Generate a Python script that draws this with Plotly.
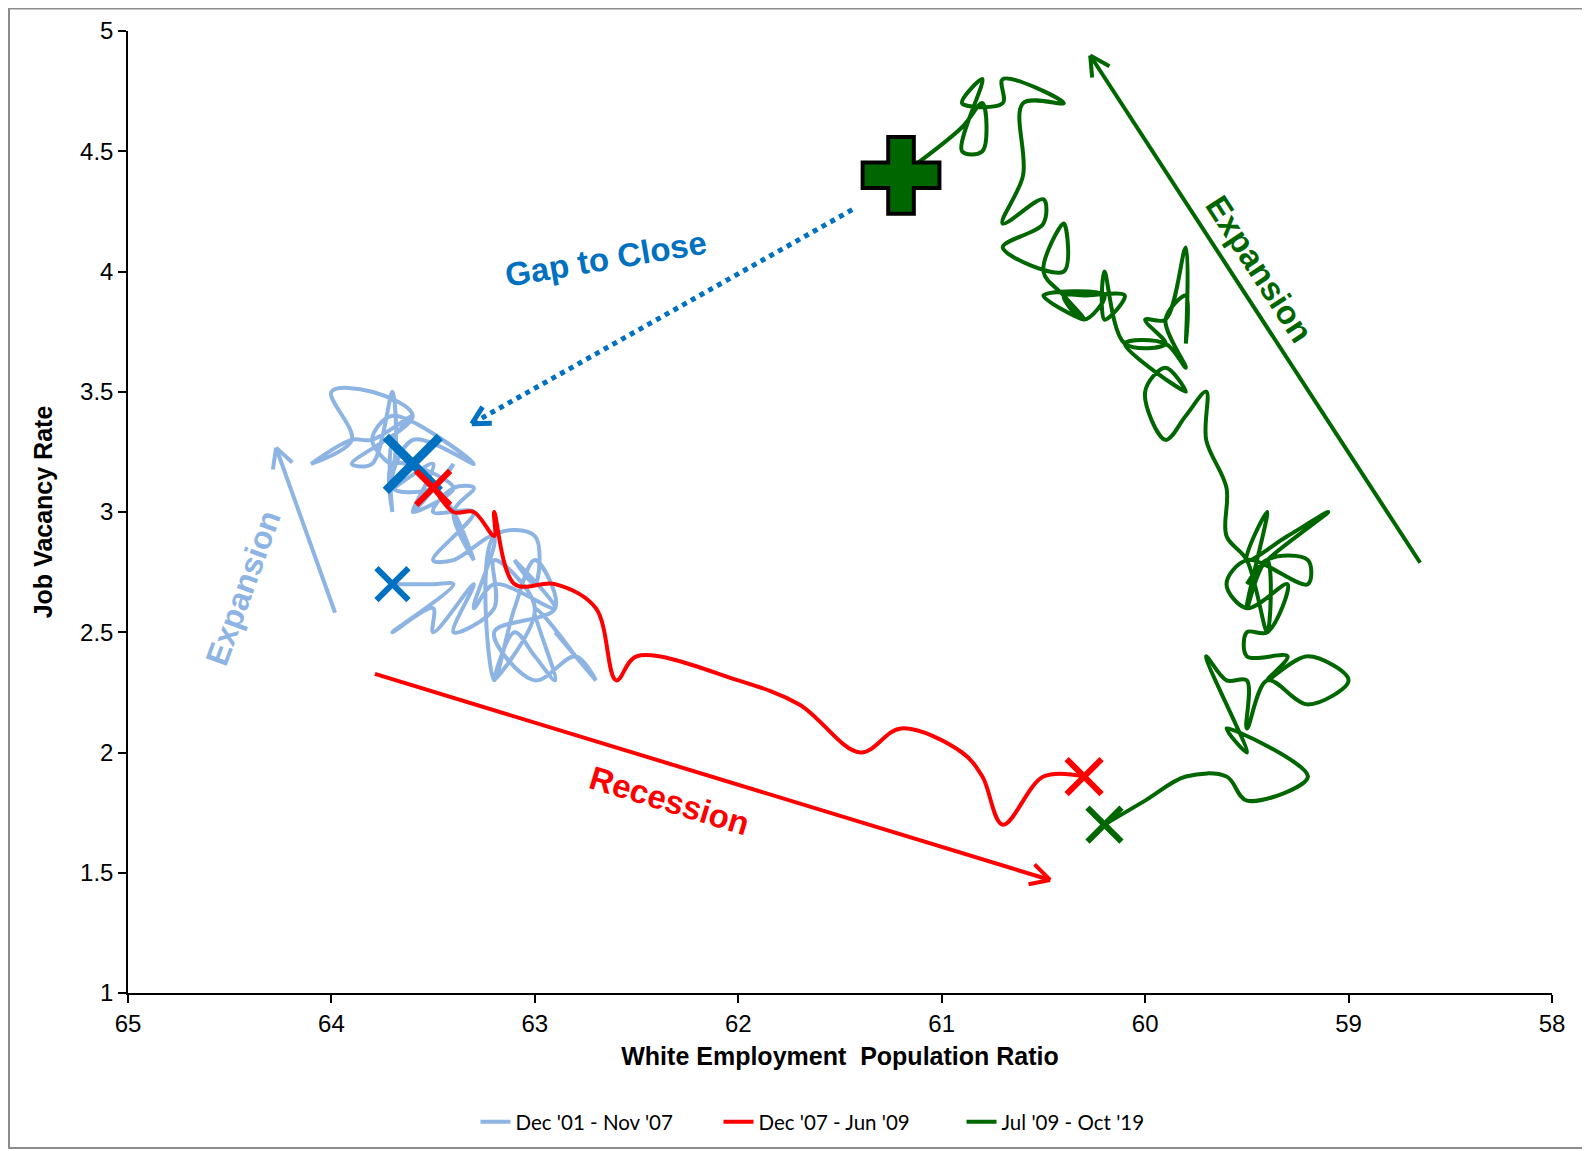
import math
import plotly.graph_objects as go

# ---------------- data ----------------
series_names = ["Dec '01 - Nov '07", "Dec '07 - Jun '09", "Jul '09 - Oct '19"]

blue_x = [63.7, 63.5, 63.4, 63.7, 63.5, 63.5, 63.3, 63.4, 63.2, 63.2, 63.0, 63.2,
          63.1, 63.0, 62.9, 63.0, 62.8, 62.9, 62.7, 62.8, 63.0, 63.2, 62.9, 63.0,
          63.1, 63.2, 63.2, 63.0, 63.0, 63.1, 62.9, 63.2, 63.3, 63.2, 63.4, 63.5,
          63.3, 63.5, 63.4, 63.3, 63.4, 63.3, 63.4, 63.5, 63.6, 63.4, 63.7, 63.7,
          63.7, 63.6, 63.8, 63.9, 64.1, 63.9, 64.0, 63.8, 63.6, 63.9, 63.8, 63.7,
          63.7, 63.8, 63.7, 63.3, 63.6, 63.7, 63.5, 63.4, 63.6, 63.5, 63.7, 63.6]
blue_y = [2.7, 2.7, 2.7, 2.5, 2.6, 2.5, 2.7, 2.5, 2.6, 2.8, 2.6, 2.3,
          2.5, 2.4, 2.3, 2.6, 2.4, 2.5, 2.3, 2.4, 2.3, 2.5, 2.6, 2.8,
          2.6, 2.3, 2.9, 2.9, 2.7, 2.8, 2.6, 2.7, 2.6, 2.9, 2.8, 2.8,
          3.0, 3.0, 3.1, 3.1, 3.0, 2.8, 3.0, 3.1, 3.0, 3.1, 3.2, 3.0,
          3.3, 3.4, 3.3, 3.3, 3.2, 3.3, 3.5, 3.5, 3.4, 3.2, 3.2, 3.5,
          3.2, 3.3, 3.4, 3.2, 3.3, 3.1, 3.1, 3.2, 3.0, 3.2, 3.1, 3.2]

red_x = [63.6, 63.5, 63.4, 63.3, 63.2, 63.2, 63.1, 62.9, 62.7, 62.6, 62.5,
         62.0, 61.7, 61.4, 61.2, 60.9, 60.8, 60.7, 60.5, 60.3]
red_y = [3.2, 3.1, 3.0, 3.0, 2.9, 3.0, 2.7, 2.7, 2.6, 2.3, 2.4,
         2.3, 2.2, 2.0, 2.1, 2.0, 1.9, 1.7, 1.9, 1.9]

green_x = [60.2, 60.0, 59.8, 59.6, 59.5, 59.2, 59.6, 59.5, 59.7, 59.6, 59.5, 59.5,
           59.4, 59.2, 59.0, 59.2, 59.4, 59.3, 59.5, 59.5, 59.4, 59.3, 59.5, 59.6,
           59.5, 59.2, 59.2, 59.4, 59.5, 59.4, 59.5, 59.3, 59.1, 59.4, 59.5, 59.4,
           59.4, 59.5, 59.6, 59.6, 59.7, 59.7, 59.8, 59.9, 60.0, 59.9, 59.8, 60.1,
           59.9, 59.8, 59.9, 59.8, 59.8, 59.8, 59.9, 60.0, 59.9, 60.1, 60.2, 60.2,
           60.1, 60.3, 60.4, 60.3, 60.2, 60.5, 60.3, 60.4, 60.5, 60.4, 60.4, 60.7,
           60.5, 60.5, 60.7, 60.6, 60.6, 60.4, 60.7, 60.7, 60.9, 60.8, 60.9, 60.8,
           60.8, 60.9, 61.2]
green_y = [1.7, 1.8, 1.9, 1.9, 1.8, 1.9, 2.1, 2.0, 2.4, 2.3, 2.3, 2.1,
           2.3, 2.2, 2.3, 2.4, 2.3, 2.4, 2.4, 2.5, 2.5, 2.7, 2.6, 2.7,
           2.8, 2.7, 2.8, 2.8, 2.6, 3.0, 2.8, 2.9, 3.0, 2.8, 2.7, 2.8,
           2.5, 2.8, 2.9, 3.1, 3.3, 3.5, 3.4, 3.3, 3.5, 3.6, 3.5, 3.7,
           3.7, 3.6, 3.8, 3.9, 3.7, 4.1, 3.8, 3.8, 3.7, 3.7, 4.0, 3.8,
           3.9, 3.9, 3.9, 3.8, 3.9, 3.9, 3.8, 3.9, 4.0, 4.2, 4.0, 4.1,
           4.2, 4.3, 4.2, 4.4, 4.7, 4.7, 4.8, 4.7, 4.7, 4.8, 4.5, 4.5,
           4.7, 4.6, 4.4]

x_ticks = [65, 64, 63, 62, 61, 60, 59, 58]
y_ticks = [1, 1.5, 2, 2.5, 3, 3.5, 4, 4.5, 5]

# ---------------- layout constants ----------------
# page has an 8px body margin, so the figure is offset by 8px
W, H = 1582, 1143
ML, MR, MT, MB = 120, 38, 23, 158
X_RANGE = [65, 58]
Y_RANGE = [1, 5]
PW, PH = W - ML - MR, H - MT - MB
sx = PW / (X_RANGE[0] - X_RANGE[1])
sy = PH / (Y_RANGE[1] - Y_RANGE[0])

C_LBLUE = "#8DB4E2"
C_BLUE = "#0070C0"
C_RED = "#FF0000"
C_GREEN = "#006600"


def arrow_shapes(x0, y0, x1, y1, color, width, dash="solid", head=22, ang=28):
    dxp = -(x1 - x0) * sx
    dyp = -(y1 - y0) * sy
    L = math.hypot(dxp, dyp)
    ux, uy = dxp / L, dyp / L
    out = [dict(type="line", xref="x", yref="y", x0=x0, y0=y0, x1=x1, y1=y1,
                line=dict(color=color, width=width, dash=dash))]
    for s in (1, -1):
        a = math.radians(ang * s)
        bx = -(ux * math.cos(a) - uy * math.sin(a))
        by = -(ux * math.sin(a) + uy * math.cos(a))
        out.append(dict(type="line", xref="x", yref="y", x0=x1, y0=y1,
                        x1=x1 - bx * head / sx, y1=y1 - by * head / sy,
                        line=dict(color=color, width=width)))
    return out


fig = go.Figure()

line_kw = dict(mode="lines", line_shape="spline")
fig.add_trace(go.Scatter(x=blue_x, y=blue_y, name=series_names[0],
                         line=dict(color=C_LBLUE, width=4, smoothing=1), **line_kw))
fig.add_trace(go.Scatter(x=red_x, y=red_y, name=series_names[1],
                         line=dict(color=C_RED, width=4, smoothing=1), **line_kw))
fig.add_trace(go.Scatter(x=green_x, y=green_y, name=series_names[2],
                         line=dict(color=C_GREEN, width=4, smoothing=1), **line_kw))


def mark(x, y, color, size, lw, symbol="x-thin", outline=None):
    fig.add_trace(go.Scatter(
        x=[x], y=[y], mode="markers", showlegend=False, hoverinfo="skip",
        marker=dict(symbol=symbol, size=size, color=color,
                    line=dict(color=outline or color, width=lw))))

mark(blue_x[0], blue_y[0], C_BLUE, 32, 6)
mark(blue_x[-1], blue_y[-1], C_BLUE, 54, 9)
mark(red_x[1], red_y[1], C_RED, 34, 6)
mark(red_x[-1], red_y[-1], C_RED, 35, 6)
mark(green_x[0], green_y[0], C_GREEN, 34, 6)
mark(green_x[-1], green_y[-1], C_GREEN, 64, 4, symbol="cross", outline="black")

shapes = []
shapes += arrow_shapes(61.44, 4.257, 63.31, 3.367, C_BLUE, 5, dash="dot", head=20)
shapes += arrow_shapes(58.648, 2.789, 60.27, 4.898, C_GREEN, 4)
shapes += arrow_shapes(63.786, 2.327, 60.467, 1.470, C_RED, 4)
shapes += arrow_shapes(63.982, 2.581, 64.272, 3.267, C_LBLUE, 4)
shapes.append(dict(type="rect", xref="paper", yref="paper", layer="below",
                   x0=(1 - ML) / PW, x1=(1579 - ML) / PW,
                   y0=(H - MB - 1140) / PH, y1=(H - MB - 0.5) / PH,
                   line=dict(color="#8C8C8C", width=2)))

font_b = "Liberation Sans, Arial, sans-serif"
annotations = [
    dict(x=62.65, y=4.053, text="<b>Gap to Close</b>", textangle=-9.5,
         font=dict(family=font_b, size=33, color=C_BLUE)),
    dict(x=62.34, y=1.80, text="<b>Recession</b>", textangle=17,
         font=dict(family=font_b, size=33, color=C_RED)),
    dict(x=59.44, y=4.012, text="<b>Expansion</b>", textangle=57,
         font=dict(family=font_b, size=33, color=C_GREEN)),
    dict(x=64.435, y=2.685, text="<b>Expansion</b>", textangle=-70,
         font=dict(family=font_b, size=32, color=C_LBLUE)),
]
for a in annotations:
    a.update(xref="x", yref="y", showarrow=False)

fig.update_layout(
    width=W, height=H,
    margin=dict(l=ML, r=MR, t=MT, b=MB, autoexpand=False),
    paper_bgcolor="white", plot_bgcolor="white",
    font=dict(family=font_b, color="black"),
    shapes=shapes, annotations=annotations,
    showlegend=True,
    legend=dict(orientation="h", x=0.5, xanchor="center", y=-0.134, yanchor="middle",
                font=dict(family="Lato, Carlito, sans-serif", size=20.5, color="black"),
                entrywidth=198, entrywidthmode="pixels", tracegroupgap=0),
    xaxis=dict(range=X_RANGE, tickvals=x_ticks, ticks="outside", ticklen=8, tickwidth=1.5,
               tickcolor="black", showline=True, linecolor="black", linewidth=1.5,
               showgrid=False, zeroline=False, automargin=False,
               tickfont=dict(family=font_b, size=24, color="black"),
               title=dict(text="<b>White Employment  Population Ratio</b>", standoff=12,
                          font=dict(family=font_b, size=25, color="black"))),
    yaxis=dict(range=Y_RANGE, tickvals=y_ticks, ticks="outside", ticklen=8, tickwidth=1.5,
               tickcolor="black", showline=True, linecolor="black", linewidth=1.5,
               showgrid=False, zeroline=False, automargin=False,
               tickfont=dict(family=font_b, size=24, color="black"),
               title=dict(text="<b>Job Vacancy Rate</b>", standoff=20,
                          font=dict(family=font_b, size=25, color="black"))),
)

fig.write_html("out.html")
